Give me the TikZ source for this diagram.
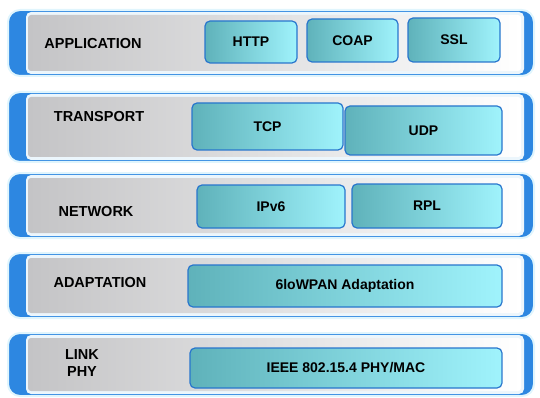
\documentclass[tikz,border=0pt]{standalone}
\usepackage{fontspec}
\setmainfont{Liberation Sans}

\definecolor{bandblue}{RGB}{45,135,225}
\definecolor{bandrim}{RGB}{236,246,252}
\definecolor{panelgray}{RGB}{196,196,198}
\definecolor{boxteal}{RGB}{95,178,186}
\definecolor{boxcyan}{RGB}{160,243,252}
\definecolor{boxline}{RGB}{40,118,205}

\tikzset{
  band/.style={fill=bandblue, draw=cyan!12, line width=2pt, rounded corners=12pt},
  rim/.style={fill=bandrim, rounded corners=5pt},
  panel/.style={left color=panelgray, middle color=panelgray!55!white, right color=white, rounded corners=3pt},
  proto/.style={draw=boxline, line width=1.2pt, rounded corners=5pt,
    left color=boxteal, right color=boxcyan, inner sep=0pt,
    font=\fontsize{14}{16}\selectfont\bfseries},
  layername/.style={align=center, font=\fontsize{14.5}{17}\selectfont\bfseries}
}

\begin{document}
\begin{tikzpicture}[x=1pt, y=-1pt]
  \useasboundingbox (0,0) rectangle (540,398);

  % application layer
  \fill[band] (8,10) rectangle (534,76);
  \fill[rim] (26,12) rectangle (524,74);
  \shade[panel] (28,15) rectangle (521,71);
  \node[layername] (app) at (93,44) {APPLICATION};
  \node[proto, minimum width=92pt, minimum height=42pt] (http) at (251,42) {HTTP};
  \node[proto, minimum width=91pt, minimum height=43pt] (coap) at (352.5,40.5) {COAP};
  \node[proto, minimum width=92pt, minimum height=44pt] (ssl) at (454,40) {SSL};

  % transport layer
  \fill[band] (8,92) rectangle (534,162);
  \fill[rim] (26,94) rectangle (524,160);
  \shade[panel] (28,97) rectangle (521,157);
  \node[layername] (trans) at (99,117) {TRANSPORT};
  \node[proto, minimum width=151pt, minimum height=47pt] (tcp) at (267.5,126.5) {TCP};
  \node[proto, minimum width=157pt, minimum height=49pt] (udp) at (423.5,130.5) {UDP};

  % network layer
  \fill[band] (8,173) rectangle (534,238);
  \fill[rim] (26,175) rectangle (524,236);
  \shade[panel] (28,178) rectangle (521,233);
  \node[layername] (net) at (96,212) {NETWORK};
  \node[proto, minimum width=148pt, minimum height=43pt] (ipv6) at (271,206.5) {IPv6};
  \node[proto, minimum width=150pt, minimum height=44pt] (rpl) at (427,206) {RPL};

  % adaptation layer
  \fill[band] (8,253) rectangle (534,318);
  \fill[rim] (26,255) rectangle (524,316);
  \shade[panel] (28,258) rectangle (521,313);
  \node[layername] (adapt) at (100,283) {ADAPTATION};
  \node[proto, minimum width=314pt, minimum height=42pt] (lowpan) at (345,286) {6loWPAN Adaptation};

  % link / phy layer
  \fill[band] (8,333) rectangle (534,396);
  \fill[rim] (26,335) rectangle (524,394);
  \shade[panel] (28,338) rectangle (521,391);
  \node[layername] (link) at (82,363) {LINK\\PHY};
  \node[proto, minimum width=312pt, minimum height=40pt] (ieee) at (346,368) {IEEE 802.15.4 PHY/MAC};
\end{tikzpicture}
\end{document}
